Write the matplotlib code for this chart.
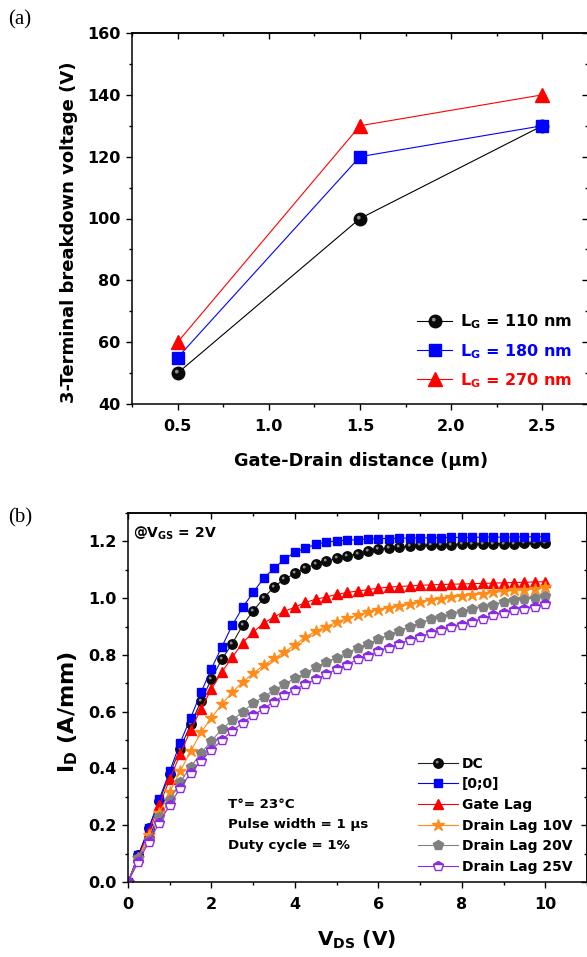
import numpy as np
import matplotlib
matplotlib.use("Agg")
import matplotlib.pyplot as plt
from matplotlib.ticker import MultipleLocator, FormatStrFormatter
from matplotlib.path import Path

plt.rcParams['font.family'] = ['DejaVu Sans']
plt.rcParams['font.weight'] = 'bold'
plt.rcParams['mathtext.fontset'] = 'dejavusans'
plt.rcParams['mathtext.default'] = 'bf'

# ---------------- data (a) ----------------
gd_distance = [0.5, 1.5, 2.5]
bv_110 = [50, 100, 130]
bv_180 = [55, 120, 130]
bv_270 = [60, 130, 140]

# ---------------- data (b) ----------------
vds = np.arange(0, 10.01, 0.25)
id_dc = [0.0, 0.094, 0.19, 0.285, 0.38, 0.47, 0.555, 0.637, 0.715, 0.785, 0.84, 0.905,
         0.955, 1.0, 1.04, 1.067, 1.087, 1.106, 1.12, 1.13, 1.14, 1.148, 1.157, 1.165,
         1.172, 1.176, 1.18, 1.183, 1.186, 1.187, 1.188, 1.189, 1.19, 1.19, 1.191, 1.191,
         1.192, 1.192, 1.193, 1.193, 1.193]
id_00 = [0.0, 0.095, 0.19, 0.292, 0.39, 0.49, 0.578, 0.668, 0.752, 0.829, 0.905, 0.968,
         1.02, 1.07, 1.105, 1.137, 1.162, 1.176, 1.19, 1.197, 1.202, 1.204, 1.206, 1.208,
         1.21, 1.21, 1.211, 1.212, 1.212, 1.213, 1.213, 1.214, 1.214, 1.214, 1.215, 1.215,
         1.215, 1.215, 1.216, 1.216, 1.216]
id_gl = [0.0, 0.088, 0.176, 0.27, 0.362, 0.45, 0.535, 0.61, 0.68, 0.74, 0.792, 0.843,
         0.88, 0.912, 0.933, 0.954, 0.968, 0.985, 0.996, 1.004, 1.013, 1.02, 1.025, 1.03,
         1.035, 1.039, 1.041, 1.043, 1.045, 1.047, 1.048, 1.049, 1.05, 1.051, 1.052, 1.053,
         1.054, 1.055, 1.056, 1.057, 1.058]
id_dl10 = [0.0, 0.085, 0.165, 0.243, 0.317, 0.39, 0.46, 0.527, 0.578, 0.627, 0.668, 0.705,
           0.735, 0.764, 0.788, 0.81, 0.836, 0.862, 0.884, 0.9, 0.915, 0.929, 0.94, 0.951,
           0.96, 0.966, 0.972, 0.978, 0.985, 0.992, 0.998, 1.003, 1.008, 1.012, 1.016, 1.02,
           1.024, 1.027, 1.03, 1.034, 1.038]
id_dl20 = [0.0, 0.084, 0.148, 0.229, 0.289, 0.352, 0.405, 0.454, 0.497, 0.539, 0.57, 0.6,
           0.63, 0.652, 0.676, 0.697, 0.718, 0.735, 0.757, 0.775, 0.79, 0.808, 0.824, 0.84,
           0.855, 0.87, 0.885, 0.9, 0.913, 0.925, 0.934, 0.943, 0.952, 0.963, 0.969, 0.977,
           0.986, 0.992, 0.996, 1.001, 1.008]
id_dl25 = [0.0, 0.072, 0.141, 0.209, 0.271, 0.331, 0.384, 0.427, 0.465, 0.5, 0.533, 0.561,
           0.588, 0.611, 0.635, 0.658, 0.678, 0.697, 0.714, 0.732, 0.75, 0.766, 0.784, 0.797,
           0.814, 0.826, 0.84, 0.852, 0.864, 0.876, 0.887, 0.899, 0.905, 0.917, 0.928, 0.94,
           0.948, 0.958, 0.963, 0.969, 0.978]

W, H = 587, 957
fig = plt.figure(figsize=(W / 100, H / 100), dpi=100)

def px_axes(l, r, t, b):
    return [l / W, 1 - b / H, (r - l) / W, (b - t) / H]

def fy(y):
    return 1 - y / H

# off-centre highlight marker for the "sphere" symbols (bounding points keep scale)
_circ = Path.circle(center=(-0.28, 0.3), radius=0.3)
_verts = np.vstack([[[-1, -1]], [[1, 1]], _circ.vertices])
_codes = np.concatenate([[Path.MOVETO, Path.MOVETO], _circ.codes])
HIGHLIGHT = Path(_verts, _codes)

def style_axes(ax, xmaj, xmin, ymaj, ymin):
    for s in ax.spines.values():
        s.set_linewidth(1.1)
    ax.tick_params(which='both', direction='out', top=False, right=False, width=1.0,
                   labelsize=11.5, pad=4)
    ax.tick_params(which='major', length=4.5)
    ax.tick_params(which='minor', length=2.5)
    ax.tick_params(axis='x', pad=6)
    ax.xaxis.set_major_locator(MultipleLocator(xmaj))
    ax.xaxis.set_minor_locator(MultipleLocator(xmin))
    ax.yaxis.set_major_locator(MultipleLocator(ymaj))
    ax.yaxis.set_minor_locator(MultipleLocator(ymin))
    sec = ax.secondary_xaxis('top')
    sec.tick_params(which='both', direction='in', labeltop=False, width=1.0)
    sec.tick_params(which='major', length=4.5)
    sec.tick_params(which='minor', length=2.5)
    sec.spines['top'].set_linewidth(1.1)
    sec.xaxis.set_major_locator(MultipleLocator(xmaj))
    sec.xaxis.set_minor_locator(MultipleLocator(xmin))
    secy = ax.secondary_yaxis('right')
    secy.tick_params(which='both', direction='in', labelright=False, width=1.0)
    secy.tick_params(which='major', length=4.5)
    secy.tick_params(which='minor', length=2.5)
    secy.spines['right'].set_linewidth(1.1)
    secy.yaxis.set_major_locator(MultipleLocator(ymaj))
    secy.yaxis.set_minor_locator(MultipleLocator(ymin))

# ---------------- panel (a) ----------------
ax1 = fig.add_axes(px_axes(132, 588, 33, 404))
l110, = ax1.plot(gd_distance, bv_110, '-o', color='black', mfc='#0a0a0a', mec='#0a0a0a', ms=9, lw=0.8)
h110, = ax1.plot(gd_distance, bv_110, ls='None', marker=HIGHLIGHT, ms=9, mfc='#8c8c8c', mec='none')
l180, = ax1.plot(gd_distance, bv_180, '-s', color='#0000ff', ms=8, lw=0.8)
l270, = ax1.plot(gd_distance, bv_270, '-^', color='#ff0000', ms=9.5, lw=0.8)
ax1.set_xlim(0.25, 2.75)
ax1.set_ylim(40, 160)
style_axes(ax1, 0.5, 0.25, 20, 10)
ax1.legend(handles=[(l110, h110), l180, l270],
           labels=[r'$\mathbf{L_G}$ = 110 nm', r'$\mathbf{L_G}$ = 180 nm', r'$\mathbf{L_G}$ = 270 nm'],
           loc='lower right', bbox_to_anchor=(0.998, 0.0), frameon=False,
           fontsize=11.5, handlelength=2.2, handletextpad=0.5, labelspacing=0.65,
           labelcolor=['black', '#0000ff', '#ff0000'])
fig.text(69 / W, fy(232), '3-Terminal breakdown voltage (V)', rotation=90,
         ha='center', va='center', fontsize=13, fontweight='bold')
fig.text(361 / W, fy(461), 'Gate-Drain distance (µm)', ha='center', va='center',
         fontsize=12.8, fontweight='bold')
fig.text(8 / W, fy(20), '(a)', family='Liberation Serif', fontweight='normal',
         fontsize=15, ha='left', va='center')

# ---------------- panel (b) ----------------
ax2 = fig.add_axes(px_axes(128, 587, 513, 882))
ms = 6.8
ldc, = ax2.plot(vds, id_dc, '-o', color='#222222', mfc='#0a0a0a', mec='#0a0a0a', ms=ms, lw=0.8)
hdc, = ax2.plot(vds, id_dc, ls='None', marker=HIGHLIGHT, ms=ms, mfc='#8c8c8c', mec='none')
l00, = ax2.plot(vds, id_00, '-s', color='#0000ff', ms=ms - 0.6, lw=0.8)
lgl, = ax2.plot(vds, id_gl, '-^', color='#ff0000', ms=ms + 0.4, lw=0.8)
l10, = ax2.plot(vds, id_dl10, '-*', color='#ff8c1a', ms=ms + 2, lw=0.8)
l20, = ax2.plot(vds, id_dl20, '-p', color='#808080', ms=ms + 1, lw=0.8)
l25, = ax2.plot(vds, id_dl25, '-p', color='#8a2be2', mfc='#8a2be2', mfcalt='white', mec='#8a2be2',
                fillstyle='top', mew=1.0, ms=ms + 0.5, lw=0.8)
ax2.set_xlim(0, 11)
ax2.set_ylim(0, 1.3)
style_axes(ax2, 2, 1, 0.2, 0.1)
ax2.yaxis.set_major_formatter(FormatStrFormatter('%.1f'))
ax2.legend(handles=[(ldc, hdc), l00, lgl, l10, l20, l25],
           labels=['DC', '[0;0]', 'Gate Lag', 'Drain Lag 10V', 'Drain Lag 20V', 'Drain Lag 25V'],
           loc='lower right', bbox_to_anchor=(0.996, -0.012), frameon=False, fontsize=10,
           handlelength=2.9, handletextpad=0.3, labelspacing=0.48)
ax2.text(0.218, 0.155, 'T°= 23°C\nPulse width = 1 µs\nDuty cycle = 1%', transform=ax2.transAxes,
         fontsize=9.6, fontweight='bold', ha='left', va='center', linespacing=1.78)
ax2.text(0.01, 0.945, r'@V$_{\mathbf{GS}}$ = 2V', transform=ax2.transAxes, fontsize=10,
         fontweight='bold', ha='left', va='center')
fig.text(68 / W, fy(712), r'I$_{\mathbf{D}}$ (A/mm)', rotation=90, ha='center', va='center',
         fontsize=16, fontweight='bold')
fig.text(357 / W, fy(946), r'V$_{\mathbf{DS}}$ (V)', ha='center', va='baseline',
         fontsize=14.4, fontweight='bold')
fig.text(8 / W, fy(518), '(b)', family='Liberation Serif', fontweight='normal',
         fontsize=15, ha='left', va='center')

fig.savefig('out.png', dpi=100)
